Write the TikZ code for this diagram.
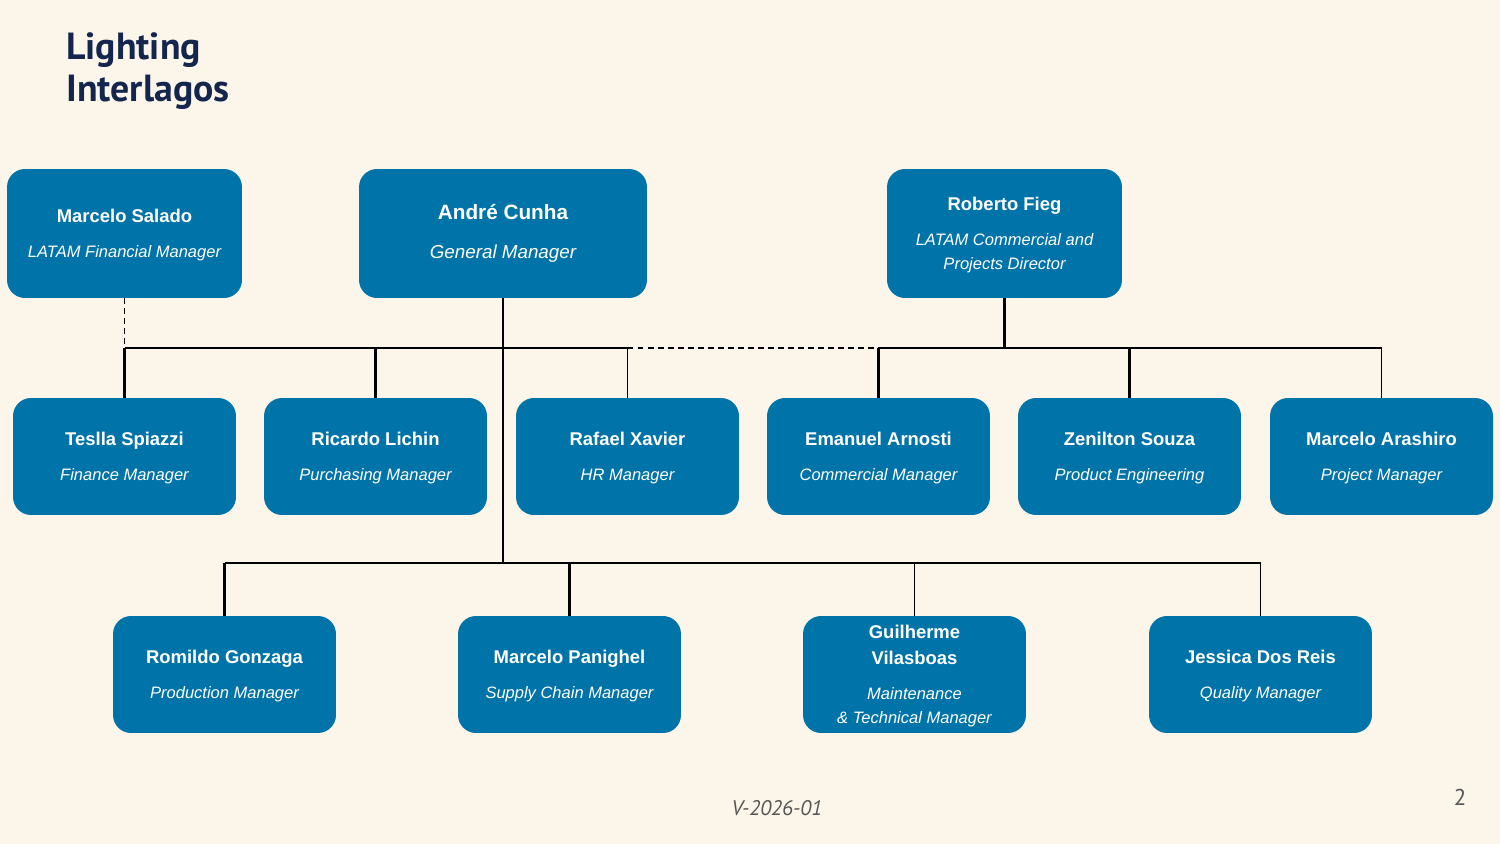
\documentclass[tikz,border=0pt]{standalone}
\usepackage{fontspec}
\usepackage{xcolor}
\setmainfont{Liberation Sans}
\newfontfamily\titlefont{PT Sans}

\definecolor{pagebg}{RGB}{251,246,233}
\definecolor{boxblue}{RGB}{0,115,168}
\definecolor{navy}{RGB}{20,38,78}
\definecolor{footgray}{RGB}{85,85,85}

% one line of a name, one line of a role
\newcommand{\nm}[1]{{\fontsize{10.5}{14.8}\selectfont\bfseries\rule{0pt}{9.8pt}#1}}
\newcommand{\rl}[1]{{\itshape #1}}
\newcommand{\who}[2]{\nm{#1}\\[6.2pt]\rl{#2}}

\begin{document}
\begin{tikzpicture}[x=0.02cm,y=-0.02cm,
    person/.style={rectangle, rounded corners=0.36cm, fill=boxblue, text=white,
        align=center, inner sep=0pt, minimum width=4.46cm, minimum height=2.34cm,
        font=\fontsize{9.4}{13.7}\selectfont},
    head/.style={person, minimum width=4.7cm, minimum height=2.58cm},
    link/.style={draw=black, line width=0.6pt},
    mainlink/.style={draw=black, line width=1.2pt},
    dotline/.style={link, dash pattern=on 3.4pt off 2.3pt}]
    % Page
    \fill[pagebg] (0,0) rectangle (1500,844);
    \useasboundingbox (0,0) rectangle (1500,844);

    % Title
    \node[anchor=north west, inner sep=0pt, align=left, text=navy,
        font=\titlefont\bfseries\fontsize{21.5}{24}\selectfont] (title) at (66,32) {Lighting\\Interlagos};

    % Top row
    \node[head] (fin) at (124.5,233.5) {\who{Marcelo Salado}{LATAM Financial Manager}};
    \node[head, minimum width=5.76cm] (gm) at (503,233.5)
        {{\fontsize{11.8}{14}\selectfont\bfseries Andr\'e Cunha}\\[8.2pt]%
         {\fontsize{10.7}{12.8}\selectfont\itshape General Manager}};
    \node[head] (cd) at (1004.5,233.5) {\who{Roberto Fieg}{LATAM Commercial and}\\\rl{Projects Director}};

    % Second row
    \node[person] (teslla) at (124.5,456.5) {\who{Teslla Spiazzi}{Finance Manager}};
    \node[person] (ricardo) at (375.5,456.5) {\who{Ricardo Lichin}{Purchasing Manager}};
    \node[person] (rafael) at (627.5,456.5) {\who{Rafael Xavier}{HR Manager}};
    \node[person] (emanuel) at (878.5,456.5) {\who{Emanuel Arnosti}{Commercial Manager}};
    \node[person] (zenilton) at (1129.5,456.5) {\who{Zenilton Souza}{Product Engineering}};
    \node[person] (arashiro) at (1381.5,456.5) {\who{Marcelo Arashiro}{Project Manager}};

    % Third row
    \node[person] (romildo) at (224.5,674.5) {\who{Romildo Gonzaga}{Production Manager}};
    \node[person] (panighel) at (569.5,674.5) {\who{Marcelo Panighel}{Supply Chain Manager}};
    \node[person] (guilherme) at (914.5,674.5)
        {\nm{Guilherme}\\[1.1pt]\who{Vilasboas}{Maintenance}\\\rl{\& Technical Manager}};
    \node[person] (jessica) at (1260.5,674.5) {\who{Jessica Dos Reis}{Quality Manager}};

    % Bus lines
    \coordinate (busA) at (0,348);
    \coordinate (busB) at (0,563);

    % Upper bus
    \draw[link] (teslla.north |- busA) -- (rafael.north |- busA);
    \draw[dotline] (rafael.north |- busA) -- (emanuel.north |- busA);
    \draw[link] (emanuel.north |- busA) -- (arashiro.north |- busA);
    \draw[mainlink] (cd.south) -- (cd.south |- busA);
    \draw[mainlink] (teslla.north |- busA) -- (teslla.north);
    \draw[dotline] (fin.south) -- (teslla.north);
    \draw[mainlink] (ricardo.north |- busA) -- (ricardo.north);
    \draw[link] (rafael.north |- busA) -- (rafael.north);
    \draw[mainlink] (emanuel.north |- busA) -- (emanuel.north);
    \draw[mainlink] (zenilton.north |- busA) -- (zenilton.north);
    \draw[link] (arashiro.north |- busA) -- (arashiro.north);

    % Lower bus
    \draw[link] (gm.south) -- (gm.south |- busB);
    \draw[link] (romildo.north |- busB) -- (jessica.north |- busB);
    \draw[mainlink] (romildo.north |- busB) -- (romildo.north);
    \draw[mainlink] (panighel.north |- busB) -- (panighel.north);
    \draw[link] (guilherme.north |- busB) -- (guilherme.north);
    \draw[link] (jessica.north |- busB) -- (jessica.north);

    % Footer
    \node[text=footgray, font=\titlefont\itshape\fontsize{12}{14}\selectfont] (ver) at (777,808) {V-2026-01};
    \node[text=footgray, font=\titlefont\fontsize{13}{15}\selectfont] (page) at (1460,797) {2};
\end{tikzpicture}
\end{document}
